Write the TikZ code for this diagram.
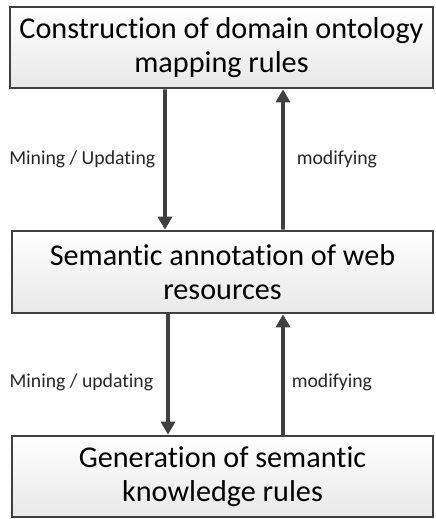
\documentclass[tikz,border=0pt]{standalone}
\usepackage{fontspec}
\setmainfont{Carlito}[RawFeature=-liga]
\usetikzlibrary{arrows.meta}
\definecolor{edge}{HTML}{404040}
\definecolor{boxbot}{HTML}{E8E8E8}
\tikzset{
  stage/.style={draw=edge, line width=2.6bp, top color=white, bottom color=boxbot,
    align=center, inner sep=0pt, minimum width=#1, text=black,
    font=\fontsize{30.3}{34.5}\selectfont},
  flow/.style={draw=edge, line width=3.6bp,
    -{Triangle[length=13bp,width=14bp]}},
  tag/.style={font=\fontsize{19.8}{22}\selectfont, text=black!85, inner sep=0pt}
}
\begin{document}
\begin{tikzpicture}[x=1bp,y=1bp]
  \useasboundingbox (0,0) rectangle (436,-519);
  % the three stages
  \node[stage=423bp, minimum height=81bp] (rules)  at (221.5,-47.5)
    {Construction of domain ontology\\mapping rules};
  \node[stage=421bp, minimum height=82bp] (annot)  at (222.5,-272)
    {Semantic annotation of web\\resources};
  \node[stage=421bp, minimum height=81bp] (gen)    at (222.5,-476.5)
    {Generation of semantic\\knowledge rules};
  % upper pair of connectors
  \draw[flow] ([xshift=-56.5bp]rules.south) -- ([xshift=-57.5bp]annot.north)
    node[tag, midway, anchor=east, xshift=-8bp] {Mining / Updating};
  \draw[flow] ([xshift=60.5bp]annot.north) -- ([xshift=61.5bp]rules.south)
    node[tag, midway, anchor=west, xshift=12bp] {modifying};
  % lower pair of connectors
  \draw[flow] ([xshift=-54.5bp]annot.south) -- ([xshift=-54.5bp]gen.north)
    node[tag, midway, anchor=east, xshift=-13bp, yshift=-8bp] {Mining / updating};
  \draw[flow] ([xshift=60.5bp]gen.north) -- ([xshift=60.5bp]annot.south)
    node[tag, midway, anchor=west, xshift=7bp, yshift=-8bp] {modifying};
\end{tikzpicture}
\end{document}
